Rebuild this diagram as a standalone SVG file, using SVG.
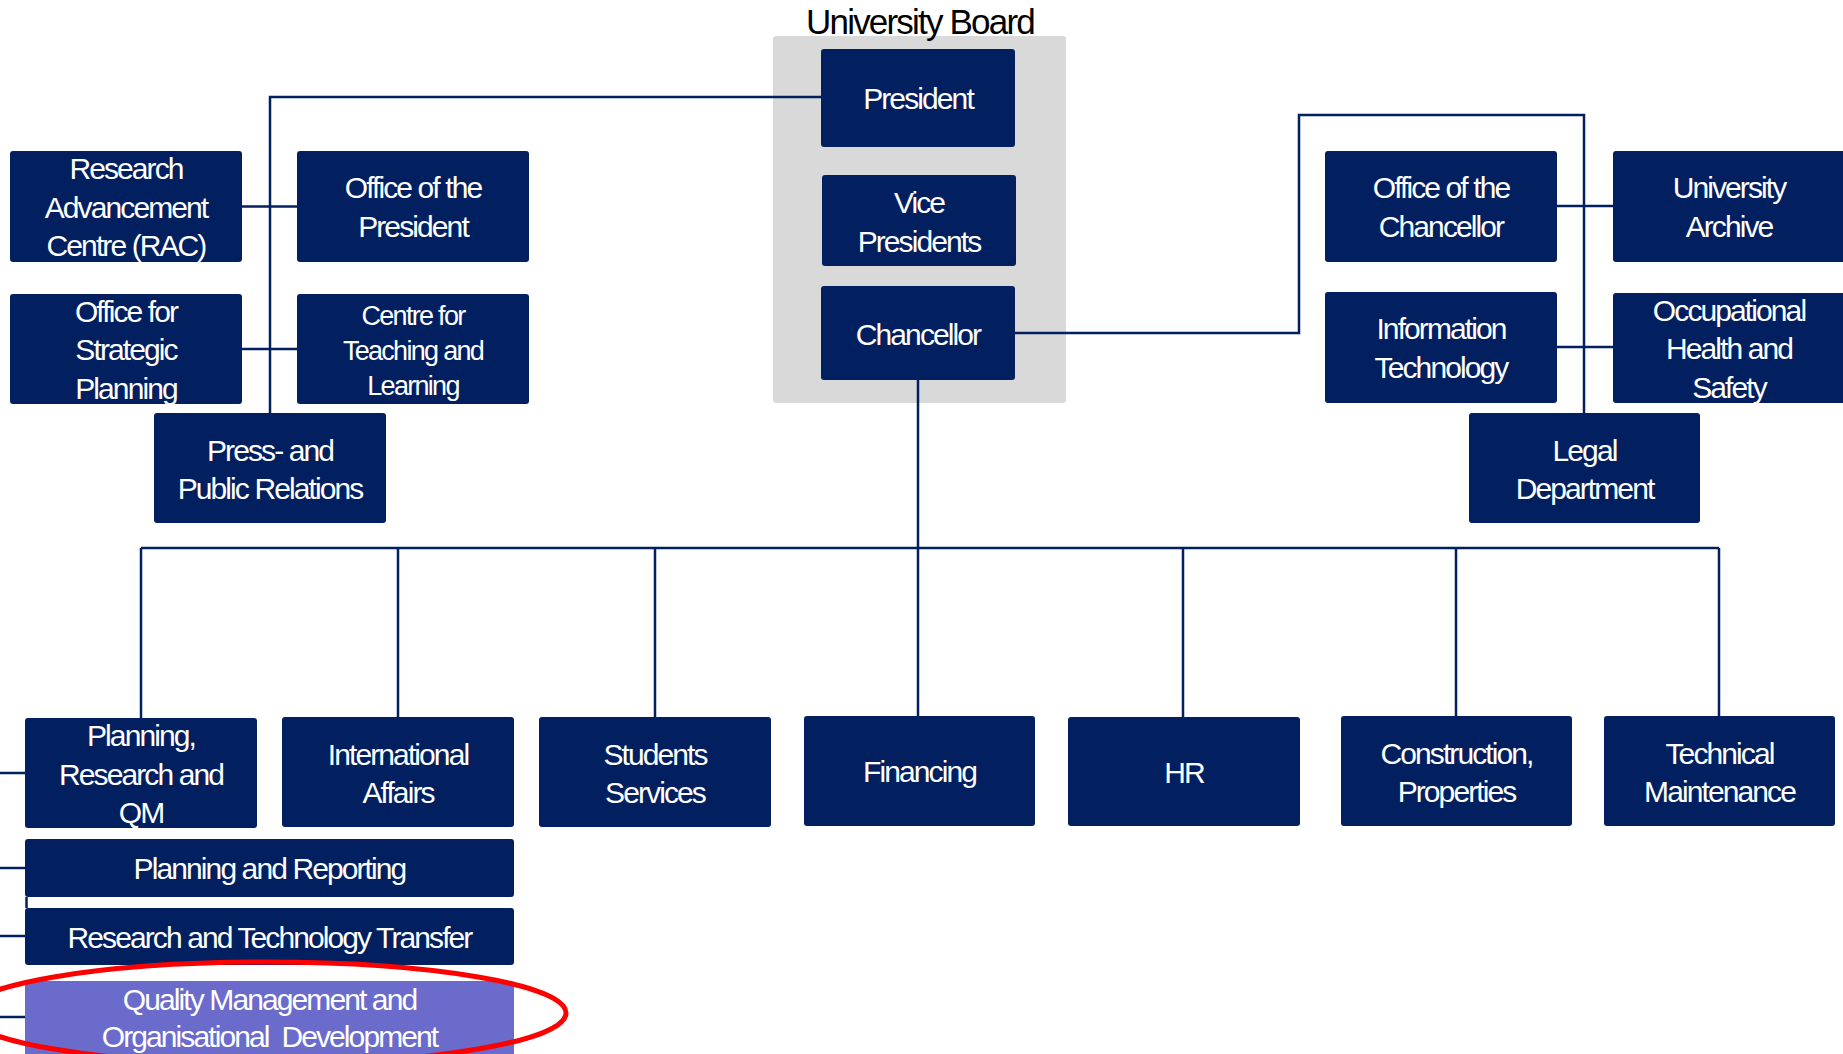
<svg xmlns="http://www.w3.org/2000/svg" width="1843" height="1054" viewBox="0 0 1843 1054">
<style>
.bx{fill:#022060;}
.qm{fill:#6b6bcc;}
.t{font-family:"Liberation Sans",Arial,sans-serif;font-size:30px;letter-spacing:-1.9px;fill:#ffffff;text-anchor:middle;}
.sm{font-size:27px;letter-spacing:-1.7px;}
.title{font-family:"Liberation Sans",Arial,sans-serif;font-size:35px;letter-spacing:-1.8px;fill:#000000;text-anchor:middle;}
.ln{fill:none;stroke:#022060;stroke-width:2.5;}
</style>
<rect id="board" x="773" y="36" width="293" height="367" rx="3" fill="#d9d9d9"/>
<g id="connectors" class="ln">
<path d="M821,97 H270 V413"/>
<path d="M242,206.5 H297"/>
<path d="M242,349 H297"/>
<path d="M1015,333 H1299 V115 H1584 V413"/>
<path d="M1557,206 H1613"/>
<path d="M1557,347 H1613"/>
<path d="M918,380 V716"/>
<path d="M141,548 H1719"/>
<path d="M141,548 V718"/>
<path d="M398,548 V717"/>
<path d="M655,548 V717"/>
<path d="M1183,548 V717"/>
<path d="M1456,548 V716"/>
<path d="M1719,548 V716"/>
<path d="M0,773 H25"/>
<path d="M0,868 H25"/>
<path d="M0,936 H25"/>
<path d="M0,1017 H25"/>
<path d="M26.5,897 V908"/>
</g>
<g id="n-rac"><rect class="bx" x="10" y="151" width="232" height="111" rx="3"/><text class="t"><tspan x="126" y="179">Research</tspan><tspan x="126" y="217.5">Advancement</tspan><tspan x="126" y="256">Centre (RAC)</tspan></text></g>
<g id="n-oop"><rect class="bx" x="297" y="151" width="232" height="111" rx="3"/><text class="t"><tspan x="413" y="198">Office of the</tspan><tspan x="413" y="237">President</tspan></text></g>
<g id="n-osp"><rect class="bx" x="10" y="294" width="232" height="110" rx="3"/><text class="t"><tspan x="126" y="321.5">Office for</tspan><tspan x="126" y="360">Strategic</tspan><tspan x="126" y="398.5">Planning</tspan></text></g>
<g id="n-ctl"><rect class="bx" x="297" y="294" width="232" height="110" rx="3"/><text class="t sm"><tspan x="413" y="325">Centre for</tspan><tspan x="413" y="360">Teaching and</tspan><tspan x="413" y="395">Learning</tspan></text></g>
<g id="n-press"><rect class="bx" x="154" y="413" width="232" height="110" rx="3"/><text class="t"><tspan x="270" y="460.5">Press- and</tspan><tspan x="270" y="499">Public Relations</tspan></text></g>
<g id="n-president"><rect class="bx" x="821" y="49" width="194" height="98" rx="3"/><text class="t" x="918" y="109">President</text></g>
<g id="n-vp"><rect class="bx" x="822" y="175" width="194" height="91" rx="3"/><text class="t"><tspan x="919" y="213">Vice</tspan><tspan x="919" y="251.5">Presidents</tspan></text></g>
<g id="n-chancellor"><rect class="bx" x="821" y="286" width="194" height="94" rx="3"/><text class="t" x="918" y="344.5">Chancellor</text></g>
<g id="n-ooc"><rect class="bx" x="1325" y="151" width="232" height="111" rx="3"/><text class="t"><tspan x="1441" y="198">Office of the</tspan><tspan x="1441" y="237">Chancellor</tspan></text></g>
<g id="n-archive"><rect class="bx" x="1613" y="151" width="232" height="111" rx="3"/><text class="t"><tspan x="1729" y="198">University</tspan><tspan x="1729" y="237">Archive</tspan></text></g>
<g id="n-it"><rect class="bx" x="1325" y="292" width="232" height="111" rx="3"/><text class="t"><tspan x="1441" y="339">Information</tspan><tspan x="1441" y="378">Technology</tspan></text></g>
<g id="n-ohs"><rect class="bx" x="1613" y="293" width="232" height="110" rx="3"/><text class="t"><tspan x="1729" y="320.5">Occupational</tspan><tspan x="1729" y="359">Health and</tspan><tspan x="1729" y="397.5">Safety</tspan></text></g>
<g id="n-legal"><rect class="bx" x="1469" y="413" width="231" height="110" rx="3"/><text class="t"><tspan x="1584.5" y="460.5">Legal</tspan><tspan x="1584.5" y="499">Department</tspan></text></g>
<g id="n-prqm"><rect class="bx" x="25" y="718" width="232" height="110" rx="3"/><text class="t"><tspan x="141" y="746">Planning,</tspan><tspan x="141" y="784.5">Research and</tspan><tspan x="141" y="823">QM</tspan></text></g>
<g id="n-ia"><rect class="bx" x="282" y="717" width="232" height="110" rx="3"/><text class="t"><tspan x="398" y="764.5">International</tspan><tspan x="398" y="803">Affairs</tspan></text></g>
<g id="n-students"><rect class="bx" x="539" y="717" width="232" height="110" rx="3"/><text class="t"><tspan x="655" y="764.5">Students</tspan><tspan x="655" y="803">Services</tspan></text></g>
<g id="n-financing"><rect class="bx" x="804" y="716" width="231" height="110" rx="3"/><text class="t" x="919.5" y="782">Financing</text></g>
<g id="n-hr"><rect class="bx" x="1068" y="717" width="232" height="109" rx="3"/><text class="t" x="1184" y="782.5">HR</text></g>
<g id="n-construction"><rect class="bx" x="1341" y="716" width="231" height="110" rx="3"/><text class="t"><tspan x="1456.5" y="763.5">Construction,</tspan><tspan x="1456.5" y="802">Properties</tspan></text></g>
<g id="n-technical"><rect class="bx" x="1604" y="716" width="231" height="110" rx="3"/><text class="t"><tspan x="1719.5" y="763.5">Technical</tspan><tspan x="1719.5" y="802">Maintenance</tspan></text></g>
<g id="n-pr"><rect class="bx" x="25" y="839" width="489" height="58" rx="3"/><text class="t" x="269.5" y="879">Planning and Reporting</text></g>
<g id="n-rtt"><rect class="bx" x="25" y="908" width="489" height="57" rx="3"/><text class="t" x="269.5" y="948">Research and Technology Transfer</text></g>
<g id="n-qmod"><rect class="qm" x="25" y="981" width="489" height="80" rx="3"/><text class="t" xml:space="preserve"><tspan x="269.5" y="1010">Quality Management and</tspan><tspan x="269.5" y="1047">Organisational  Development</tspan></text></g>
<ellipse id="highlight" cx="266" cy="1013" rx="300" ry="51" fill="none" stroke="#ff0000" stroke-width="5"/>
<text id="board-title" class="title" x="920" y="34">University Board</text>
</svg>
